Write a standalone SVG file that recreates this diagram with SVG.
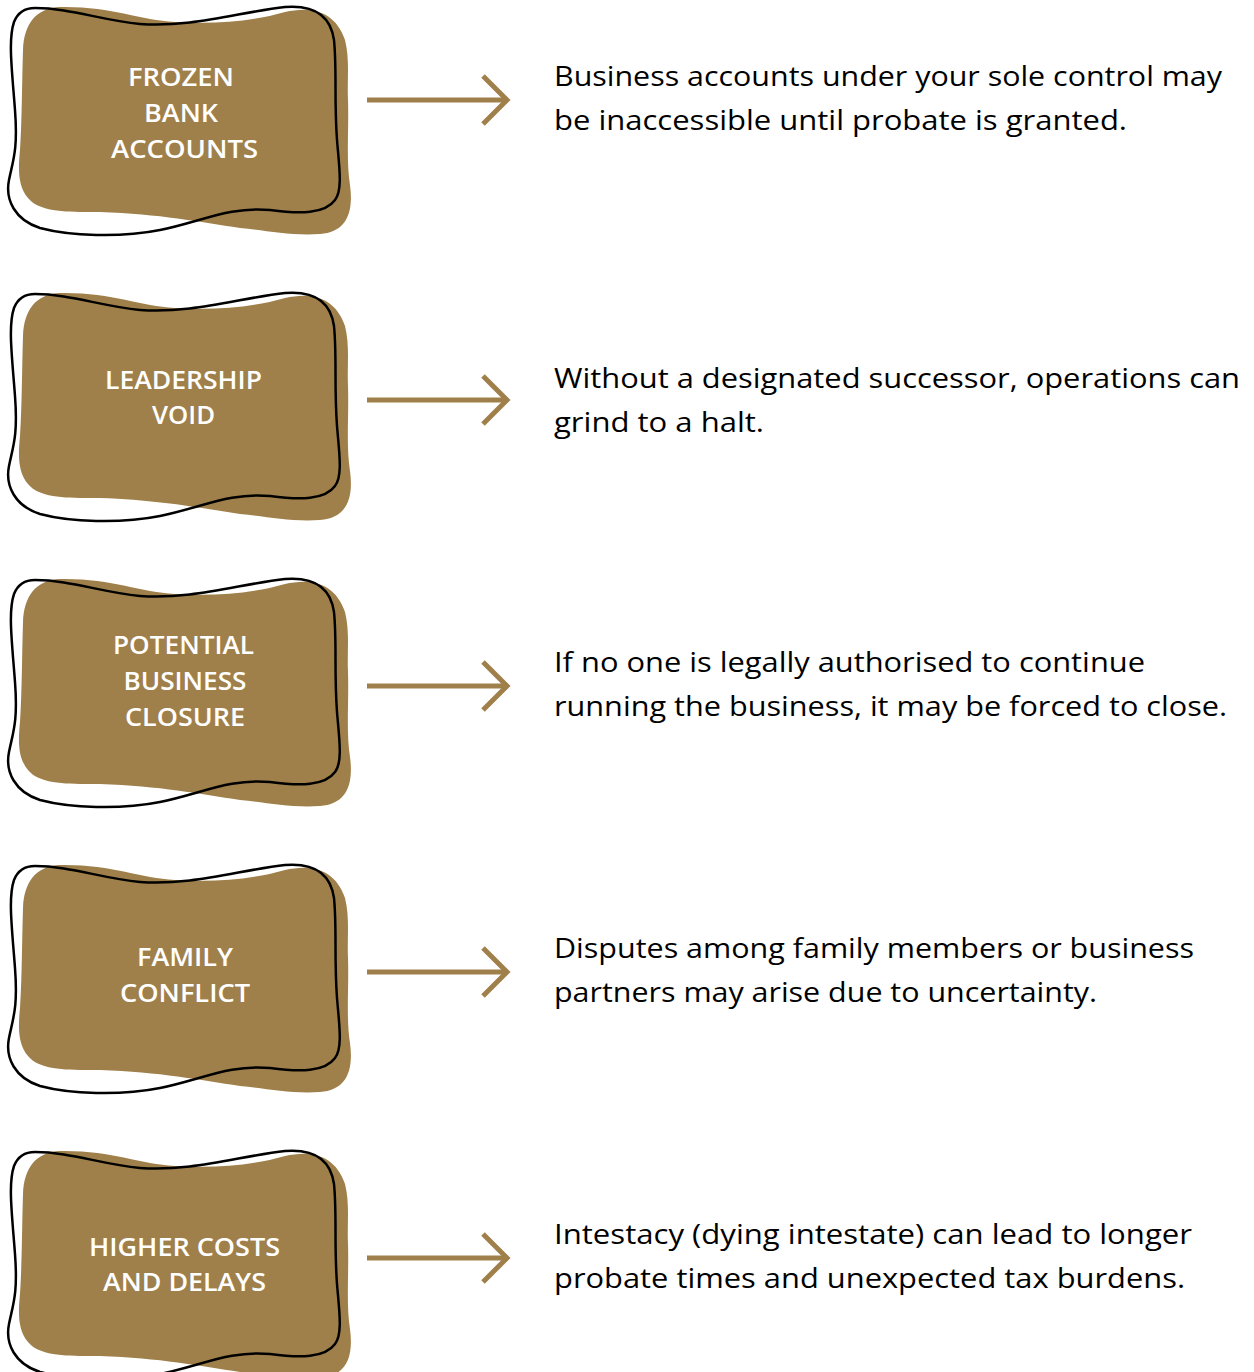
<svg xmlns="http://www.w3.org/2000/svg" width="1254" height="1372" viewBox="0 0 1254 1372">
<defs>
<style>
.fill{fill:#a0804a}
.outline{fill:none;stroke:#000;stroke-width:2.5}
.lbl{font-family:"Open Sans","Noto Sans",sans-serif;font-weight:600;font-size:25px;fill:#fff;text-anchor:middle}
.desc{font-family:"Open Sans","Noto Sans",sans-serif;font-size:27px;fill:#000}
.arr{fill:none;stroke:#a0804a;stroke-width:5}
</style>
<path id="blobFill" d="M 60 7 C 110 6, 140 20, 175 22 C 215 24, 250 22, 285 12 C 310 6, 335 10, 345 40 C 350 60, 347 80, 348 100 C 349 130, 346 160, 350 185 C 354 215, 345 232, 320 234 C 290 236, 265 230, 240 228 C 200 222, 160 214, 100 212 C 70 212, 40 213, 28 198 C 18 186, 18 170, 20 150 C 22 120, 22 80, 23 50 C 24 25, 35 8, 60 7 Z"/>
<path id="blobLine" d="M 35 8 C 70 8, 100 20, 140 24 C 190 28, 240 12, 285 7 C 310 5, 330 12, 334 40 C 337 70, 334 100, 337 140 C 339 165, 343 190, 335 200 C 325 214, 300 214, 270 210 C 230 206, 200 222, 160 230 C 120 238, 70 236, 40 228 C 15 220, 5 200, 9 180 C 13 160, 18 150, 15 110 C 12 70, 8 40, 14 22 C 18 12, 25 8, 35 8 Z"/>
<g id="arrowShape"><path d="M 367 0 H 508"/><path d="M 483 -24 L 507 0 L 483 24"/></g>
</defs>
<rect width="1254" height="1372" fill="#fff"/>

<g id="node1">
<use href="#blobFill" class="fill"/>
<use href="#blobLine" class="outline"/>
<text class="lbl" lengthAdjust="spacingAndGlyphs" x="181" y="86" textLength="106">FROZEN</text>
<text class="lbl" lengthAdjust="spacingAndGlyphs" x="181" y="122" textLength="74">BANK</text>
<text class="lbl" lengthAdjust="spacingAndGlyphs" x="184.5" y="158" textLength="147">ACCOUNTS</text>
</g>
<g id="node2" transform="translate(0,286)">
<use href="#blobFill" class="fill"/>
<use href="#blobLine" class="outline"/>
<text class="lbl" lengthAdjust="spacingAndGlyphs" x="183.5" y="103" textLength="157">LEADERSHIP</text>
<text class="lbl" lengthAdjust="spacingAndGlyphs" x="183.5" y="138" textLength="63">VOID</text>
</g>
<g id="node3" transform="translate(0,572)">
<use href="#blobFill" class="fill"/>
<use href="#blobLine" class="outline"/>
<text class="lbl" lengthAdjust="spacingAndGlyphs" x="183.5" y="82" textLength="141">POTENTIAL</text>
<text class="lbl" lengthAdjust="spacingAndGlyphs" x="185" y="118" textLength="123">BUSINESS</text>
<text class="lbl" lengthAdjust="spacingAndGlyphs" x="185" y="154" textLength="120">CLOSURE</text>
</g>
<g id="node4" transform="translate(0,858)">
<use href="#blobFill" class="fill"/>
<use href="#blobLine" class="outline"/>
<text class="lbl" lengthAdjust="spacingAndGlyphs" x="185" y="108" textLength="96">FAMILY</text>
<text class="lbl" lengthAdjust="spacingAndGlyphs" x="185" y="144" textLength="130">CONFLICT</text>
</g>
<g id="node5" transform="translate(0,1144)">
<use href="#blobFill" class="fill"/>
<use href="#blobLine" class="outline"/>
<text class="lbl" lengthAdjust="spacingAndGlyphs" x="184.5" y="112" textLength="191">HIGHER COSTS</text>
<text class="lbl" lengthAdjust="spacingAndGlyphs" x="184.5" y="147" textLength="163">AND DELAYS</text>
</g>

<g id="connectors" class="arr">
<use href="#arrowShape" transform="translate(0,100)"/>
<use href="#arrowShape" transform="translate(0,400)"/>
<use href="#arrowShape" transform="translate(0,686)"/>
<use href="#arrowShape" transform="translate(0,972)"/>
<use href="#arrowShape" transform="translate(0,1258)"/>
</g>

<g id="descriptions" class="desc">
<text x="554" y="86" textLength="668" lengthAdjust="spacingAndGlyphs">Business accounts under your sole control may</text>
<text x="554" y="130" textLength="573" lengthAdjust="spacingAndGlyphs">be inaccessible until probate is granted.</text>
<text x="554" y="388" textLength="686" lengthAdjust="spacingAndGlyphs">Without a designated successor, operations can</text>
<text x="554" y="432" textLength="210" lengthAdjust="spacingAndGlyphs">grind to a halt.</text>
<text x="554" y="672" textLength="591" lengthAdjust="spacingAndGlyphs">If no one is legally authorised to continue</text>
<text x="554" y="716" textLength="673" lengthAdjust="spacingAndGlyphs">running the business, it may be forced to close.</text>
<text x="554" y="958" textLength="640" lengthAdjust="spacingAndGlyphs">Disputes among family members or business</text>
<text x="554" y="1002" textLength="543" lengthAdjust="spacingAndGlyphs">partners may arise due to uncertainty.</text>
<text x="554" y="1244" textLength="638" lengthAdjust="spacingAndGlyphs">Intestacy (dying intestate) can lead to longer</text>
<text x="554" y="1288" textLength="631" lengthAdjust="spacingAndGlyphs">probate times and unexpected tax burdens.</text>
</g>
</svg>
